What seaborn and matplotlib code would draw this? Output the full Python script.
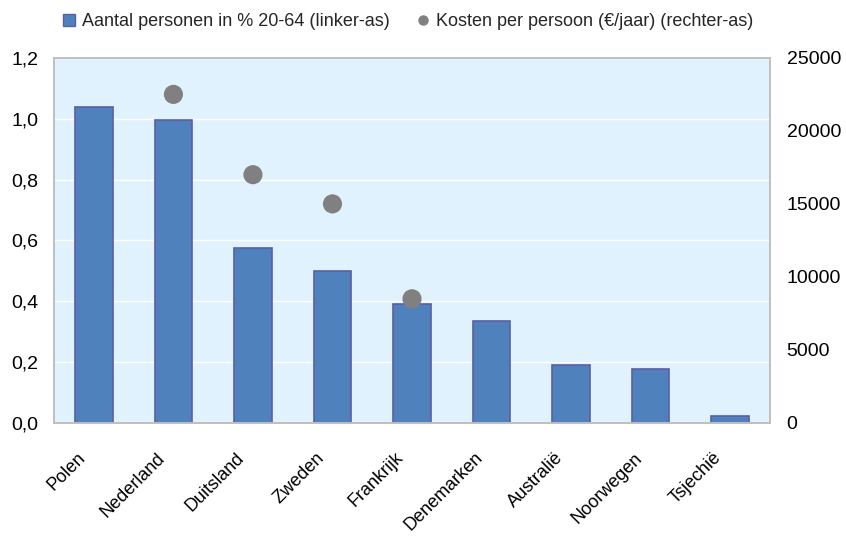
"""
Aantal personen (% 20-64) en kosten per persoon, per land.
"""

import matplotlib
matplotlib.use('Agg')
import matplotlib.pyplot as plt
from matplotlib.lines import Line2D
from matplotlib.patches import Patch
from matplotlib.ticker import FuncFormatter
from matplotlib.transforms import ScaledTranslation
import pandas as pd
import seaborn as sns

landen = ['Polen', 'Nederland', 'Duitsland', 'Zweden', 'Frankrijk',
          'Denemarken', 'Australië', 'Noorwegen', 'Tsjechië']
aantal_pct = [1.04, 0.995, 0.575, 0.50, 0.39, 0.335, 0.19, 0.178, 0.023]
kosten = [None, 22500, 17000, 15000, 8500, None, None, None, None]

linker_ticks = [0.0, 0.2, 0.4, 0.6, 0.8, 1.0, 1.2]
rechter_ticks = [0, 5000, 10000, 15000, 20000, 25000]

df = pd.DataFrame({'land': landen, 'aantal': aantal_pct, 'kosten': kosten})

sns.set_theme(style='white')
plt.rcParams['font.family'] = ['Liberation Sans', 'DejaVu Sans']

fig = plt.figure(figsize=(8.46, 5.36), dpi=100)
ax = fig.add_axes([0.064, 0.211, 0.846, 0.681])
ax.set_facecolor('#DFF2FD')

# Staven (linker-as)
sns.barplot(data=df, x='land', y='aantal', ax=ax, color='#4F81BD',
            width=0.47, saturation=1, edgecolor='#5B5EA6', linewidth=1.2)
ax.set_ylim(0, 1.2)
ax.set_yticks(linker_ticks)
ax.yaxis.set_major_formatter(FuncFormatter(lambda v, p: f'{v:.1f}'.replace('.', ',')))
ax.grid(axis='y', color='white', linewidth=1)
ax.set_axisbelow(True)
ax.set_xlabel('')
ax.set_ylabel('')
ax.set_xlim(-0.5, len(landen) - 0.5)
ax.tick_params(axis='y', length=0, labelsize=14, pad=11.5, colors='black')
ax.tick_params(axis='x', length=0, labelsize=13, pad=19, colors='black')
verschuiving = ScaledTranslation(-17 / 100, 0, fig.dpi_scale_trans)
for lbl in ax.get_xticklabels():
    lbl.set_rotation(45)
    lbl.set_ha('right')
    lbl.set_va('top')
    lbl.set_rotation_mode('anchor')
    lbl.set_transform(lbl.get_transform() + verschuiving)

# Punten (rechter-as)
ax2 = ax.twinx()
sns.scatterplot(data=df.dropna(), x='land', y='kosten', ax=ax2, color='#808080',
                s=190, edgecolor='none', zorder=5)
ax2.set_ylim(0, 25000)
ax2.set_yticks(rechter_ticks)
ax2.set_ylabel('')
ax2.tick_params(axis='y', length=0, labelsize=14, pad=12, colors='black')
ax2.grid(False)

for a in (ax, ax2):
    for s in a.spines.values():
        s.set_color('#BFBFBF')
        s.set_linewidth(1.2)

handles = [
    Patch(facecolor='#4F81BD', edgecolor='#5B5EA6', label='Aantal personen in % 20-64 (linker-as)'),
    Line2D([0], [0], marker='o', linestyle='none', color='#808080', markersize=6.5,
           label='Kosten per persoon (€/jaar) (rechter-as)'),
]
fig.legend(handles=handles, loc='center', bbox_to_anchor=(0.482, 0.959), ncol=2,
           frameon=False, fontsize=13, handlelength=0.7, handletextpad=0.35,
           columnspacing=1.5, handleheight=0.7)

fig.savefig('out.png', dpi=100)
plt.close(fig)
